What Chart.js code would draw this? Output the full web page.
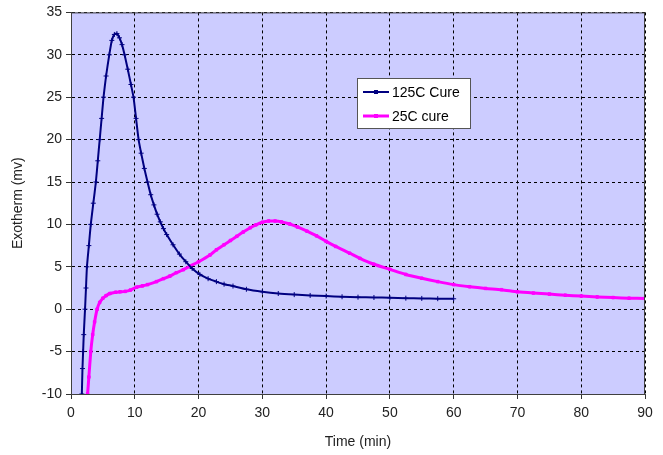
<!DOCTYPE html>
<html>
<head>
<meta charset="utf-8">
<script src="https://cdn.jsdelivr.net/npm/chart.js@4"></script>
<style>
  body { margin: 0; background: #fff; }
  #wrap { width: 663px; height: 455px; }
</style>
</head>
<body>
<div id="wrap"><canvas id="lineChart" width="663" height="455"></canvas></div>
<script>
// 125C cure
const t125 = [1.7, 1.8, 1.9, 2.0, 2.2, 2.35, 2.5, 2.8, 3.1, 3.5, 3.9, 4.2, 4.5, 4.8, 5.1, 5.5, 6.0, 6.4, 6.8, 7.2, 7.6, 8.0, 8.4, 8.9, 9.4, 9.8, 10.2, 10.6, 11.0, 11.5, 12.0, 12.5, 13.0, 13.5, 14.0, 14.5, 15.0, 16.0, 17.0, 18.0, 19.0, 20.2, 21.5, 22.8, 24, 25.4, 27.5, 30, 32.5, 35, 37.5, 40, 42.5, 45, 47.5, 50, 52.5, 55, 57.5, 60];
const v125 = [-10, -7, -5, -3, 0, 2.5, 5, 7.5, 10, 12.5, 15, 17.5, 20, 22.5, 25, 27.5, 30, 31.7, 32.4, 32.5, 32, 31.2, 30, 28.3, 26.5, 25, 22.5, 20, 18.4, 16.6, 15, 13.5, 12.3, 11.2, 10.3, 9.5, 8.8, 7.6, 6.5, 5.6, 4.8, 4.1, 3.6, 3.25, 2.95, 2.73, 2.35, 2.06, 1.85, 1.72, 1.62, 1.55, 1.47, 1.42, 1.38, 1.35, 1.3, 1.27, 1.24, 1.23];

// 25C cure
const t25 = [2.6, 2.8, 3.1, 3.4, 3.7, 4.1, 4.5, 5.0, 5.5, 6.1, 7.0, 7.7, 8.5, 9.3, 10.3, 11.2, 12.0, 13.4, 14.5, 15.5, 16.5, 17.6, 18.7, 20, 21.8, 22.8, 24, 25, 26, 27, 28.1, 29, 30, 31, 32, 33, 34.3, 35.5, 37, 38.5, 40, 41.5, 43.7, 45.3, 47.5, 50, 52.5, 55, 57.5, 60, 62.5, 65, 67.5, 70, 72.5, 75, 77.5, 80, 82.5, 85, 87.5, 90];
const v25 = [-10, -8, -5, -3, -1.5, 0, 0.8, 1.3, 1.6, 1.85, 2.0, 2.05, 2.1, 2.25, 2.6, 2.75, 2.9, 3.25, 3.6, 3.9, 4.3, 4.65, 5.1, 5.6, 6.4, 7.0, 7.6, 8.1, 8.6, 9.1, 9.6, 9.95, 10.25, 10.4, 10.4, 10.3, 10.05, 9.7, 9.2, 8.65, 8.0, 7.4, 6.6, 6.0, 5.3, 4.7, 4.1, 3.65, 3.25, 2.9, 2.65, 2.45, 2.3, 2.05, 1.9, 1.78, 1.65, 1.55, 1.45, 1.37, 1.3, 1.27];

const xTicks = [0, 10, 20, 30, 40, 50, 60, 70, 80, 90];
const yTicks = [-10, -5, 0, 5, 10, 15, 20, 25, 30, 35];

const seriesNames = ['125C Cure', '25C cure'];

function toPoints(xs, ys) {
    return xs.map((x, i) => ({ x: x, y: ys[i] }));
}

// fundo da área do gráfico + moldura
const plotBox = {
    id: 'plotBox',
    beforeDraw(chart) {
        const a = chart.chartArea, ctx = chart.ctx;
        ctx.save();
        ctx.fillStyle = '#CCCCFF';
        ctx.fillRect(a.left, a.top, a.right - a.left, a.bottom - a.top);
        ctx.restore();
    },
    afterDatasetsDraw(chart) {
        const a = chart.chartArea, ctx = chart.ctx;
        ctx.save();
        ctx.strokeStyle = '#404040';
        ctx.lineWidth = 1;
        ctx.strokeRect(a.left + 0.5, a.top + 0.5, a.right - a.left - 1, a.bottom - a.top);
        ctx.restore();
    }
};

// legenda em caixa dentro do gráfico
const boxLegend = {
    id: 'boxLegend',
    afterDraw(chart) {
        const ctx = chart.ctx;
        const x = 357, y = 78, w = 113, h = 50;
        ctx.save();
        ctx.fillStyle = '#fff';
        ctx.fillRect(x, y, w, h);
        ctx.strokeStyle = '#555';
        ctx.lineWidth = 1;
        ctx.strokeRect(x + 0.5, y + 0.5, w, h);
        ctx.font = '14px "Liberation Sans", Arial, sans-serif';
        ctx.textBaseline = 'middle';
        chart.data.datasets.forEach((ds, i) => {
            const cy = y + 14 + i * 24;
            ctx.strokeStyle = ds.borderColor;
            ctx.lineWidth = ds.borderWidth;
            ctx.beginPath();
            ctx.moveTo(x + 6, cy);
            ctx.lineTo(x + 32, cy);
            ctx.stroke();
            ctx.fillStyle = ds.borderColor;
            ctx.fillRect(x + 17, cy - 2, 4, 4);
            ctx.fillStyle = '#000';
            ctx.fillText(ds.label, x + 35, cy + 1);
        });
        ctx.restore();
    }
};

new Chart(document.getElementById('lineChart'), {
    type: 'line',
    data: {
        datasets: [{
            label: seriesNames[0],
            data: toPoints(t125, v125),
            borderColor: '#000080',
            backgroundColor: '#000080',
            borderWidth: 2,
            pointStyle: 'cross',
            pointRadius: 2.5,
            pointBorderWidth: 1,
            tension: 0.2
        }, {
            label: seriesNames[1],
            data: toPoints(t25, v25),
            borderColor: '#FF00FF',
            backgroundColor: '#FF00FF',
            borderWidth: 3,
            pointStyle: 'rect',
            pointRadius: 1.8,
            pointBorderWidth: 1,
            tension: 0.2
        }]
    },
    options: {
        responsive: false,
        animation: false,
        devicePixelRatio: 1,
        layout: { padding: { top: 12, right: 18, left: 0, bottom: 0 } },
        plugins: {
            legend: { display: false },
            tooltip: { enabled: false }
        },
        scales: {
            x: {
                type: 'linear',
                min: 0,
                max: 90,
                afterBuildTicks: s => { s.ticks = xTicks.map(v => ({ value: v })); },
                afterFit: s => { s.height = 61; },
                grid: { color: '#000', tickColor: '#333', tickLength: 5, tickBorderDash: [] },
                border: { display: true, color: '#404040', dash: [3, 3] },
                ticks: { color: '#222', font: { size: 14, family: '"Liberation Sans", Arial' }, padding: 6, maxRotation: 0 },
                title: { display: true, text: 'Time (min)', color: '#222', font: { size: 14, family: '"Liberation Sans", Arial' }, padding: { top: 2 } }
            },
            y: {
                type: 'linear',
                min: -10,
                max: 35,
                afterBuildTicks: s => { s.ticks = yTicks.map(v => ({ value: v })); },
                afterFit: s => { s.width = 71; },
                grid: { color: '#000', tickColor: '#333', tickLength: 5, tickBorderDash: [] },
                border: { display: true, color: '#404040', dash: [3, 3] },
                ticks: { color: '#222', font: { size: 14, family: '"Liberation Sans", Arial' }, padding: 4 },
                title: { display: true, text: 'Exotherm (mv)', color: '#222', font: { size: 14, family: '"Liberation Sans", Arial' }, padding: { top: 10, bottom: 2 } }
            }
        }
    },
    plugins: [plotBox, boxLegend]
});
</script>
</body>
</html>
